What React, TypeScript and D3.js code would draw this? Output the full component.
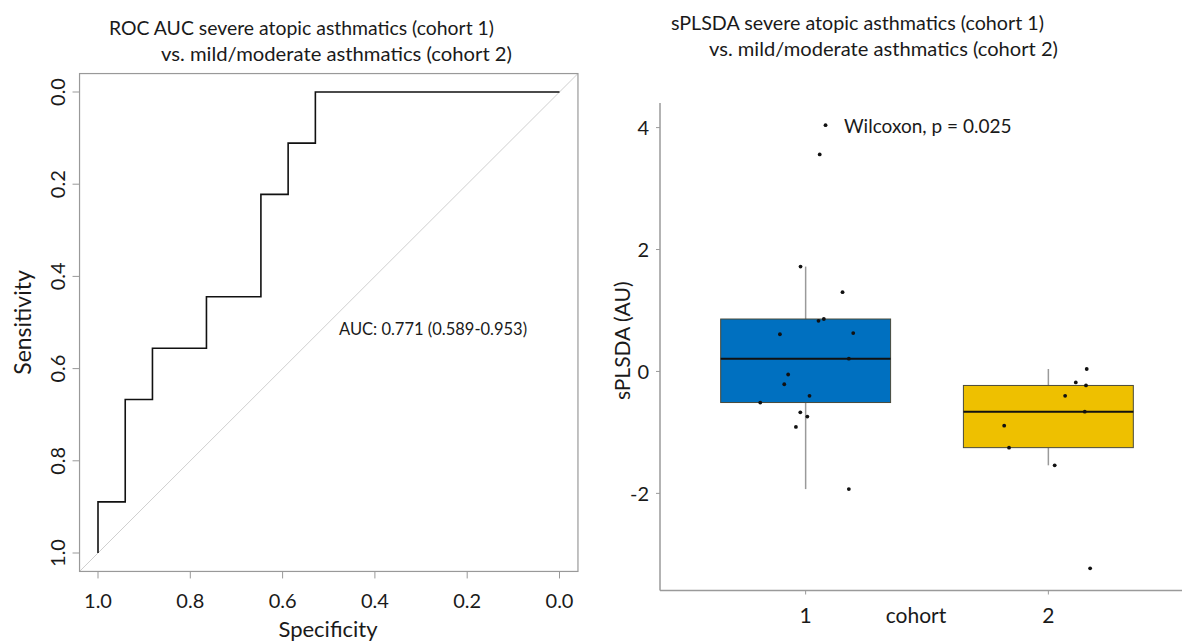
import React from 'react';
import * as d3 from 'd3';

// ---------- Left panel: ROC curve ----------
const rocSpecificity = [1.0, 0.941, 0.882, 0.765, 0.647, 0.588, 0.529, 0.0];
const rocSensitivity = [1.0, 0.889, 0.667, 0.556, 0.444, 0.222, 0.111, 0.0];
const rocTicks = [1.0, 0.8, 0.6, 0.4, 0.2, 0.0];
const rocTitle = ['ROC AUC severe atopic asthmatics (cohort 1)', 'vs. mild/moderate asthmatics (cohort 2)'];
const aucLabel = 'AUC: 0.771 (0.589-0.953)';

// ---------- Right panel: sPLSDA box plot ----------
const cohortLabels = ['1', '2'];
const cohort1Values = [4.04, 3.56, 1.72, 1.3, 0.83, 0.86, 0.61, 0.63, 0.21, -0.05, -0.21, -0.4, -0.51, -0.67, -0.74, -0.91, -1.93];
const cohort1Jitter = [0.082, 0.058, -0.021, 0.152, 0.053, 0.075, -0.106, 0.196, 0.178, -0.072, -0.088, 0.016, -0.187, -0.022, 0.007, -0.04, 0.178];
const cohort2Values = [0.04, -0.18, -0.23, -0.4, -0.66, -0.89, -1.25, -1.54, -3.23];
const cohort2Jitter = [0.158, 0.113, 0.155, 0.069, 0.15, -0.182, -0.162, 0.026, 0.172];
const cohortColors = ['#0070C0', '#EEC000'];
const boxTicks = [-2, 0, 2, 4];
const boxTitle = ['sPLSDA severe atopic asthmatics (cohort 1)', 'vs. mild/moderate asthmatics (cohort 2)'];
const wilcoxLabel = 'Wilcoxon, p = 0.025';

const FONT = 'Lato, "Open Sans", sans-serif';
const TXT = '#1a1a1a';

function boxStats(vals: number[]) {
  const s = [...vals].sort((a, b) => a - b);
  const q1 = d3.quantile(s, 0.25)!;
  const med = d3.quantile(s, 0.5)!;
  const q3 = d3.quantile(s, 0.75)!;
  const iqr = q3 - q1;
  const lo = d3.min(s.filter((v) => v >= q1 - 1.5 * iqr))!;
  const hi = d3.max(s.filter((v) => v <= q3 + 1.5 * iqr))!;
  return { q1, med, q3, lo, hi };
}

export default function App() {
  // Left scales
  const xL = d3.scaleLinear().domain([1, 0]).range([98, 559.5]);
  const yL = d3.scaleLinear().domain([0, 1]).range([92, 553]);
  const bx1 = xL(1.04), bx2 = xL(-0.04), by1 = yL(-0.04), by2 = yL(1.04);
  const rocPts: [number, number][] = rocSpecificity.map((s, i) => [s, rocSensitivity[i]]);
  const rocPath = d3
    .line<[number, number]>()
    .x((d) => xL(d[0]))
    .y((d) => yL(d[1]))
    .curve(d3.curveStepBefore)(rocPts)!;

  // Right scales
  const all = [...cohort1Values, ...cohort2Values];
  const [mn, mx] = d3.extent(all) as [number, number];
  const pad = (mx - mn) * 0.05;
  const yR = d3.scaleLinear().domain([mn - pad, mx + pad]).range([590.5, 103]);
  const xR = d3.scaleLinear().domain([0.4, 2.6]).range([660, 1194]);
  const bw = xR(1.35) - xR(1);
  const groups = [
    { vals: cohort1Values, jit: cohort1Jitter },
    { vals: cohort2Values, jit: cohort2Jitter },
  ];

  return (
    <svg
      width={1182}
      height={643}
      style={{ position: 'absolute', left: 0, top: 0, background: '#fff' }}
      fontFamily={FONT}
    >
      <rect width={1182} height={643} fill="#fff" />
      {/* ===== Left panel ===== */}
      <text x={109} y={35} fontSize={20} fill={TXT} textLength={385} lengthAdjust="spacingAndGlyphs">{rocTitle[0]}</text>
      <text x={161} y={61} fontSize={20} fill={TXT} textLength={351} lengthAdjust="spacingAndGlyphs">{rocTitle[1]}</text>
      <defs>
        <clipPath id="rocClip">
          <rect x={bx1} y={by1} width={bx2 - bx1} height={by2 - by1} />
        </clipPath>
      </defs>
      <line
        x1={xL(1.04)}
        y1={yL(1.04)}
        x2={xL(-0.04)}
        y2={yL(-0.04)}
        stroke="#cfcfcf"
        strokeWidth={1}
        clipPath="url(#rocClip)"
      />
      <path d={rocPath} fill="none" stroke="#111" strokeWidth={1.6} />
      <rect x={bx1} y={by1} width={bx2 - bx1} height={by2 - by1} fill="none" stroke="#999" strokeWidth={1.2} />
      {rocTicks.map((t) => (
        <g key={'xt' + t}>
          <line x1={xL(t)} x2={xL(t)} y1={by2} y2={by2 + 7} stroke="#999" />
          <text x={xL(t)} y={608} fontSize={20} textAnchor="middle" fill={TXT}>
            {t.toFixed(1)}
          </text>
        </g>
      ))}
      {rocTicks.map((t) => (
        <g key={'yt' + t}>
          <line x1={bx1} x2={bx1 - 7} y1={yL(t)} y2={yL(t)} stroke="#999" />
          <text
            transform={`translate(65,${yL(t)}) rotate(-90)`}
            fontSize={20}
            textAnchor="middle"
            fill={TXT}
          >
            {t.toFixed(1)}
          </text>
        </g>
      ))}
      <text x={328} y={637} fontSize={22} textAnchor="middle" fill={TXT}>Specificity</text>
      <text transform={`translate(31,${(by1 + by2) / 2}) rotate(-90)`} fontSize={23} textAnchor="middle" fill={TXT}>
        Sensitivity
      </text>
      <text x={339} y={335} fontSize={16.5} fill={TXT}>{aucLabel}</text>

      {/* ===== Right panel ===== */}
      <text x={671} y={30} fontSize={20} fill={TXT} textLength={373} lengthAdjust="spacingAndGlyphs">{boxTitle[0]}</text>
      <text x={709} y={56} fontSize={20} fill={TXT} textLength={349} lengthAdjust="spacingAndGlyphs">{boxTitle[1]}</text>

      {groups.map((g, i) => {
        const st = boxStats(g.vals);
        const cx = xR(i + 1);
        return (
          <g key={'box' + i}>
            <line x1={cx} x2={cx} y1={yR(st.hi)} y2={yR(st.q3)} stroke="#9a9a9a" strokeWidth={1.5} />
            <line x1={cx} x2={cx} y1={yR(st.q1)} y2={yR(st.lo)} stroke="#9a9a9a" strokeWidth={1.5} />
            <rect
              x={cx - bw}
              y={yR(st.q3)}
              width={2 * bw}
              height={yR(st.q1) - yR(st.q3)}
              fill={cohortColors[i]}
              stroke="#4a4a3a"
              strokeWidth={1}
            />
            <line x1={cx - bw} x2={cx + bw} y1={yR(st.med)} y2={yR(st.med)} stroke="#111" strokeWidth={2} />
          </g>
        );
      })}
      {groups.map((g, i) =>
        g.vals.map((v, j) => (
          <circle key={`p${i}-${j}`} cx={xR(i + 1 + g.jit[j])} cy={yR(v)} r={1.9} fill="#111" />
        ))
      )}

      {/* axes */}
      <line x1={660} x2={660} y1={103} y2={590.5} stroke="#9a9a9a" strokeWidth={1.5} />
      <line x1={660} x2={1182} y1={590.5} y2={590.5} stroke="#9a9a9a" strokeWidth={1.5} />
      {boxTicks.map((t) => (
        <g key={'ryt' + t}>
          <line x1={656} x2={660} y1={yR(t)} y2={yR(t)} stroke="#9a9a9a" />
          <text x={649} y={yR(t)} dy="0.36em" fontSize={20} textAnchor="end" fill={TXT}>
            {t}
          </text>
        </g>
      ))}
      {cohortLabels.map((c, i) => (
        <g key={'rxt' + c}>
          <line x1={xR(i + 1)} x2={xR(i + 1)} y1={590.5} y2={594.5} stroke="#9a9a9a" />
          <text x={xR(i + 1)} y={623} fontSize={21} textAnchor="middle" fill={TXT}>
            {c}
          </text>
        </g>
      ))}
      <text x={916} y={623} fontSize={21} textAnchor="middle" fill={TXT}>cohort</text>
      <text transform={`translate(630,${(103 + 590.5) / 2 - 6}) rotate(-90)`} fontSize={21} textAnchor="middle" fill={TXT}>
        sPLSDA (AU)
      </text>
      <text x={844} y={126} dy="0.36em" fontSize={19} fill={TXT}>{wilcoxLabel}</text>
    </svg>
  );
}
